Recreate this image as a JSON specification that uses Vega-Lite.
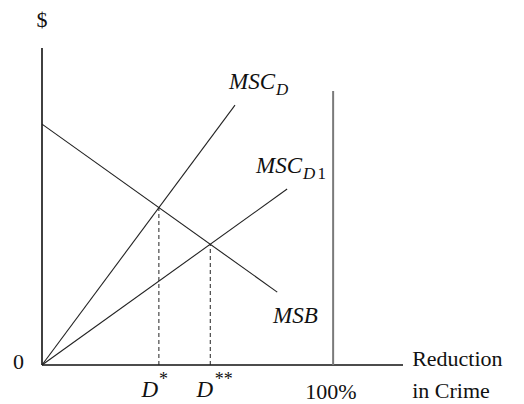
{
  "$schema": "https://vega.github.io/schema/vega-lite/v6.json",
  "width": 361,
  "height": 317,
  "autosize": "none",
  "padding": {"left": 42, "top": 48, "right": 121, "bottom": 39},
  "background": "white",
  "config": {"view": {"stroke": null}},
  "datasets": {
    "curves": [
      {"s": "MSB", "x": 0, "y": 76.0},
      {"s": "MSB", "x": 80.8, "y": 23.0},
      {"s": "MSCD", "x": 0, "y": 0},
      {"s": "MSCD", "x": 66.3, "y": 82.0},
      {"s": "MSCD1", "x": 0, "y": 0},
      {"s": "MSCD1", "x": 84.2, "y": 55.5}
    ],
    "axes": [
      {"x": 0, "y": 0, "x2": 124, "y2": 0},
      {"x": 0, "y": 0, "x2": 0, "y2": 100}
    ],
    "full": [{"x": 100, "y": 0, "y2": 86.4}],
    "drops": [
      {"x": 40.15, "y": 0, "y2": 49.7},
      {"x": 57.8, "y": 0, "y2": 38.1}
    ],
    "regular": [
      {"t": "$", "x": -1.9, "y": 106.5},
      {"t": "0", "x": -10.0, "y": -1.4},
      {"t": "100%", "x": 90.4, "y": -10.7},
      {"t": "Reduction", "x": 127.15, "y": -0.32},
      {"t": "in Crime", "x": 127.15, "y": -10.41}
    ],
    "italic": [
      {"t": "D", "x": 34.2, "y": -10.09},
      {"t": "D", "x": 53.1, "y": -10.09},
      {"t": "MSC", "x": 64.26, "y": 87.07},
      {"t": "MSC", "x": 73.54, "y": 60.57},
      {"t": "MSB", "x": 79.38, "y": 13.25}
    ],
    "sub": [
      {"t": "D", "x": 80.41, "y": 85.17},
      {"t": "D", "x": 89.69, "y": 58.68}
    ],
    "subUpright": [
      {"t": "1", "x": 94.6, "y": 58.68}
    ],
    "sup": [
      {"t": "*", "x": 40.2, "y": -6.3},
      {"t": "**", "x": 59.3, "y": -6.3}
    ]
  },
  "layer": [
    {
      "data": {"name": "axes"},
      "mark": {"type": "rule", "stroke": "#111111", "strokeWidth": 1.6},
      "encoding": {
        "x": {"field": "x", "type": "quantitative", "scale": {"domain": [0, 124], "nice": false, "zero": false}, "axis": null},
        "y": {"field": "y", "type": "quantitative", "scale": {"domain": [0, 100], "nice": false, "zero": false}, "axis": null},
        "x2": {"field": "x2"},
        "y2": {"field": "y2"}
      }
    },
    {
      "data": {"name": "full"},
      "mark": {"type": "rule", "stroke": "#7a7a7a", "strokeWidth": 2},
      "encoding": {
        "x": {"field": "x", "type": "quantitative"},
        "y": {"field": "y", "type": "quantitative"},
        "y2": {"field": "y2"}
      }
    },
    {
      "data": {"name": "drops"},
      "mark": {"type": "rule", "stroke": "#222222", "strokeWidth": 1, "strokeDash": [4, 3]},
      "encoding": {
        "x": {"field": "x", "type": "quantitative"},
        "y": {"field": "y", "type": "quantitative"},
        "y2": {"field": "y2"}
      }
    },
    {
      "data": {"name": "curves"},
      "mark": {"type": "line", "stroke": "#222222", "strokeWidth": 1.1},
      "encoding": {
        "x": {"field": "x", "type": "quantitative"},
        "y": {"field": "y", "type": "quantitative"},
        "detail": {"field": "s"}
      }
    },
    {
      "data": {"name": "regular"},
      "mark": {"type": "text", "font": "Liberation Serif", "fontSize": 22, "align": "left", "baseline": "alphabetic", "fill": "#111111"},
      "encoding": {
        "x": {"field": "x", "type": "quantitative"},
        "y": {"field": "y", "type": "quantitative"},
        "text": {"field": "t"}
      }
    },
    {
      "data": {"name": "italic"},
      "mark": {"type": "text", "font": "Liberation Serif", "fontStyle": "italic", "fontSize": 23, "align": "left", "baseline": "alphabetic", "fill": "#111111"},
      "encoding": {
        "x": {"field": "x", "type": "quantitative"},
        "y": {"field": "y", "type": "quantitative"},
        "text": {"field": "t"}
      }
    },
    {
      "data": {"name": "sub"},
      "mark": {"type": "text", "font": "Liberation Serif", "fontStyle": "italic", "fontSize": 17, "align": "left", "baseline": "alphabetic", "fill": "#111111"},
      "encoding": {
        "x": {"field": "x", "type": "quantitative"},
        "y": {"field": "y", "type": "quantitative"},
        "text": {"field": "t"}
      }
    },
    {
      "data": {"name": "subUpright"},
      "mark": {"type": "text", "font": "Liberation Serif", "fontSize": 17, "align": "left", "baseline": "alphabetic", "fill": "#111111"},
      "encoding": {
        "x": {"field": "x", "type": "quantitative"},
        "y": {"field": "y", "type": "quantitative"},
        "text": {"field": "t"}
      }
    },
    {
      "data": {"name": "sup"},
      "mark": {"type": "text", "font": "Liberation Serif", "fontSize": 18, "align": "left", "baseline": "alphabetic", "fill": "#111111"},
      "encoding": {
        "x": {"field": "x", "type": "quantitative"},
        "y": {"field": "y", "type": "quantitative"},
        "text": {"field": "t"}
      }
    }
  ]
}
